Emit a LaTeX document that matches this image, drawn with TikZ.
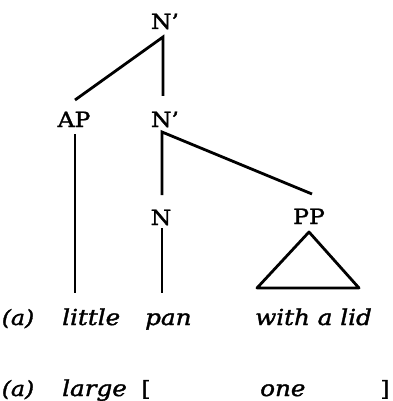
\documentclass[tikz,border=0pt]{standalone}
\usepackage{fontspec}
\setmainfont{DejaVu Serif}[FakeStretch=1.12,FakeBold=1.6]
\begin{document}
\begin{tikzpicture}[x=1pt,y=-1pt,
  lbl/.style={inner sep=0pt,anchor=base,font=\fontsize{21}{25}\selectfont},
  word/.style={inner sep=0pt,anchor=base west,font=\fontsize{22}{26}\selectfont\itshape},
  edge/.style={line width=2.8pt}]
\useasboundingbox (0,0) rectangle (392,401);
% category labels
\node[lbl] (top) at (165,29) {N’};
\node[lbl] (ap) at (74,127) {AP};
\node[lbl] (mid) at (165,127) {N’};
\node[lbl] (n) at (161,225) {N};
\node[lbl] (pp) at (309,224) {PP};
% connector end points
\coordinate (topF) at (163,37);
\coordinate (apT) at (75,100);
\coordinate (midT) at (163,96);
\coordinate (apF) at (75,134);
\coordinate (apB) at (75,293);
\coordinate (midF) at (162,132);
\coordinate (nT) at (162,195);
\coordinate (ppT) at (312,194);
\coordinate (nF) at (162,228);
\coordinate (nB) at (162,293);
\coordinate (ppA) at (309,232);
\coordinate (ppL) at (257,288);
\coordinate (ppR) at (359,288);
% branches
\draw[edge] (apT) -- (topF) -- (midT);
\draw[edge] (apF) -- (apB);
\draw[edge] (nT) -- (midF) -- (ppT);
\draw[edge] (nF) -- (nB);
\draw[edge,line join=round] (ppA) -- (ppL) -- (ppR) -- cycle;
% words, row 1
\node[lbl,font=\fontsize{21}{25}\selectfont\itshape] (a1) at (18,325) {(a)};
\node[word] (w1) at (62,325) {little};
\node[word] (w2) at (145,325) {pan};
\node[word] (w3) at (255,325) {with a lid};
% words, row 2
\node[lbl,font=\fontsize{21}{25}\selectfont\itshape] (a2) at (18,396) {(a)};
\node[word] (w4) at (62,396) {large};
\node[lbl] (lb) at (146,396) {[};
\node[word] (w5) at (260,396) {one};
\node[lbl] (rb) at (385,396) {]};
\end{tikzpicture}
\end{document}
